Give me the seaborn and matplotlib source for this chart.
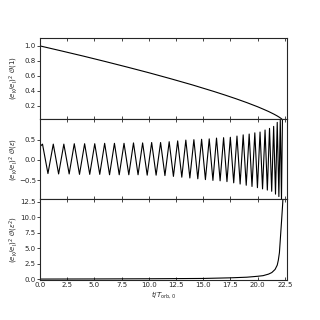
import matplotlib
matplotlib.use('Agg')
import matplotlib.pyplot as plt
import seaborn as sns

# top panel: O(1) term
t_top = [0, 2, 4, 6, 8, 10, 12, 14, 16, 17, 18, 19, 20, 20.5, 21, 21.5, 21.8, 22.0, 22.15, 22.3]
v_top = [1.000, 0.932, 0.863, 0.791, 0.717, 0.641, 0.561, 0.478, 0.389, 0.342, 0.293, 0.241,
         0.185, 0.154, 0.122, 0.086, 0.062, 0.044, 0.029, 0.010]

# middle panel: O(eps) term, read at start + every peak / trough
t_mid = [0.00, 0.23, 0.73, 1.22, 1.71, 2.19, 2.68, 3.15, 3.63, 4.10, 4.57, 5.03, 5.49, 5.94,
         6.39, 6.84, 7.28, 7.72, 8.16, 8.59, 9.01, 9.43, 9.85, 10.26, 10.67, 11.08, 11.48,
         11.87, 12.26, 12.65, 13.03, 13.40, 13.77, 14.14, 14.50, 14.85, 15.20, 15.55, 15.89,
         16.22, 16.55, 16.87, 17.18, 17.49, 17.80, 18.10, 18.39, 18.67, 18.95, 19.22, 19.48,
         19.74, 19.98, 20.22, 20.45, 20.68, 20.89, 21.09, 21.29, 21.47, 21.64, 21.80, 21.95,
         22.08, 22.19, 22.28]
v_mid = [0.33, 0.39, -0.34, 0.39, -0.35, 0.39, -0.35, 0.40, -0.36, 0.40, -0.36, 0.40, -0.36,
         0.41, -0.37, 0.41, -0.37, 0.41, -0.37, 0.42, -0.37, 0.42, -0.38, 0.43, -0.38, 0.43,
         -0.39, 0.45, -0.41, 0.47, -0.43, 0.49, -0.45, 0.50, -0.47, 0.51, -0.49, 0.52, -0.51,
         0.54, -0.52, 0.55, -0.54, 0.56, -0.57, 0.59, -0.60, 0.62, -0.63, 0.64, -0.66, 0.67,
         -0.69, 0.69, -0.72, 0.74, -0.75, 0.78, -0.78, 0.83, -0.85, 0.93, -0.91, 1.00, -0.97, 1.04]

# bottom panel: O(eps^2) term
t_bot = [0, 5, 10, 15, 17.5, 19, 20, 20.5, 21, 21.3, 21.6, 21.8, 21.9, 22.0, 22.1, 22.2, 22.3, 22.35]
v_bot = [0.05, 0.07, 0.1, 0.15, 0.25, 0.35, 0.5, 0.6, 0.85, 1.1, 1.6, 2.3, 3.1, 4.3, 6.9, 9.5, 12.2, 14]

sns.set_style('ticks')
fig, axes = plt.subplots(3, 1, sharex=True, figsize=(3.2, 3.2), dpi=100)
fig.subplots_adjust(left=0.125, right=0.898, top=0.881, bottom=0.125, hspace=0)

sns.lineplot(x=t_top, y=v_top, ax=axes[0], color='black', lw=0.8, estimator=None)
sns.lineplot(x=t_mid, y=v_mid, ax=axes[1], color='black', lw=0.8, estimator=None)
sns.lineplot(x=t_bot, y=v_bot, ax=axes[2], color='black', lw=0.8, estimator=None)

axes[0].set_ylim(0.025, 1.105)
axes[1].set_ylim(-0.98, 1.02)
axes[2].set_ylim(-0.1, 12.9)
axes[2].set_xlim(0, 22.73)
axes[0].set_yticks([0.2, 0.4, 0.6, 0.8, 1.0])
axes[1].set_yticks([-0.5, 0.0, 0.5])
axes[2].set_yticks([0, 2.5, 5, 7.5, 10, 12.5])
axes[2].set_xticks([0, 2.5, 5, 7.5, 10, 12.5, 15, 17.5, 20, 22.5])

labels = [r'$(e_\mathrm{K}/e_\mathrm{I})^2\ \mathcal{O}(1)$',
          r'$(e_\mathrm{K}/e_\mathrm{I})^2\ \mathcal{O}(\epsilon)$',
          r'$(e_\mathrm{K}/e_\mathrm{I})^2\ \mathcal{O}(\epsilon^2)$']
for ax, lab in zip(axes, labels):
    ax.set_ylabel(lab, fontsize=5)
    ax.tick_params(axis='x', direction='in', top=True, bottom=True, length=2.5, width=0.6,
                   labelsize=5, pad=1.5)
    ax.tick_params(axis='y', direction='out', length=2, width=0.6, labelsize=5, pad=1)
    for s in ax.spines.values():
        s.set_linewidth(0.8)
    ax.yaxis.set_label_coords(-0.08, 0.5)
axes[2].set_xlabel(r'$t/T_\mathrm{orb,0}$', fontsize=5, labelpad=1)

fig.savefig('out.png', dpi=100)
